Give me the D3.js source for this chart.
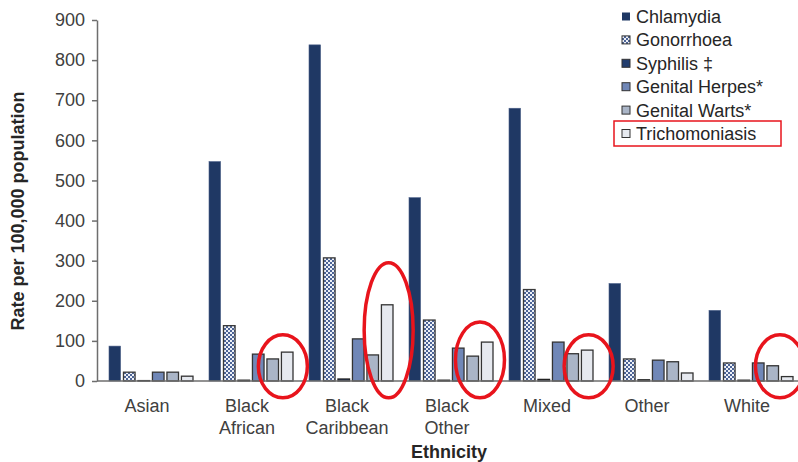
<!DOCTYPE html>
<html><head><meta charset="utf-8">
<script src="https://cdn.jsdelivr.net/npm/d3@7"></script>
<style>body{margin:0;background:#fff}svg{display:block}</style>
</head><body><svg id="c" width="798" height="462"></svg>
<script>
const categories = [["Asian"],["Black","African"],["Black","Caribbean"],["Black","Other"],["Mixed"],["Other"],["White"]];
const seriesNames = ["Chlamydia","Gonorrhoea","Syphilis \u2021","Genital Herpes*","Genital Warts*","Trichomoniasis"];
const chlamydia    = [87, 547, 838, 457, 680, 243, 176];
const gonorrhoea   = [22, 138, 307, 152, 228, 55, 45];
const syphilis     = [1, 2, 5, 2, 4, 3, 2];
const herpes       = [22, 67, 105, 82, 97, 52, 45];
const warts        = [22, 55, 65, 62, 68, 48, 38];
const trich        = [12, 72, 190, 97, 77, 20, 11];
const yTicks = [0,100,200,300,400,500,600,700,800,900];
// annotation ellipses: category index, centre in series-slot units, top and bottom in data units
const circleCat = [1, 2, 3, 4, 6];
const circlePos = [4.7, 5.1, 4.5, 5.1, 4.5];
const circleTop = [115, 295, 147, 115, 115];
const circleBottom = -42;

const values = [chlamydia, gonorrhoea, syphilis, herpes, warts, trich];
const FONT = "Liberation Sans, Arial, sans-serif";
const svg = d3.select("#c");
const defs = svg.append("defs");
const pat = defs.append("pattern").attr("id","chk").attr("patternUnits","userSpaceOnUse").attr("width",4).attr("height",4);
pat.append("rect").attr("width",4).attr("height",4).attr("fill","#eef1f7");
pat.append("rect").attr("x",0).attr("y",0).attr("width",2).attr("height",2).attr("fill","#4d6496");
pat.append("rect").attr("x",2).attr("y",2).attr("width",2).attr("height",2).attr("fill","#4d6496");

const fills = ["#1f3864","url(#chk)","#223d6e","#7087b7","#aab5c7","#e6e9ef"];
const strokes = ["#4a5f88","#3a3a3a","#222","#333","#333","#333"];

const x0 = 97, x1 = 797, yTop = 20, yBot = 381;
const x = d3.scaleBand().domain(d3.range(categories.length)).range([x0, x1]);
const xi = d3.scaleBand().domain(d3.range(seriesNames.length)).range([12, 96]).paddingInner(0.2).paddingOuter(0);
const slot = d3.scaleLinear().domain([0, 1]).range([xi(0) + xi.bandwidth()/2, xi(1) + xi.bandwidth()/2]);
const y = d3.scaleLinear().domain([0, 900]).range([yBot, yTop]);

// bars
values.forEach((arr, s) => {
  svg.append("g").selectAll("rect").data(arr).join("rect")
    .attr("x", (d,i) => x(i) + xi(s))
    .attr("width", xi.bandwidth())
    .attr("y", d => y(d))
    .attr("height", d => yBot - y(d))
    .attr("fill", fills[s])
    .attr("stroke", strokes[s])
    .attr("stroke-width", s===0?0.6:1.3);
});

// axes
const yAxis = d3.axisLeft(y).tickValues(yTicks).tickSize(5).tickPadding(7).tickSizeOuter(0);
const gy = svg.append("g").attr("transform",`translate(${x0},0)`).call(yAxis);
gy.select(".domain").attr("stroke","#6e6e6e").attr("stroke-width",1.5);
gy.selectAll(".tick line").attr("stroke","#6e6e6e").attr("stroke-width",1.5);
gy.selectAll(".tick text").attr("font-family",FONT).attr("font-size",18).attr("fill","#404040");

svg.append("line").attr("x1",x0).attr("x2",x1+1).attr("y1",yBot).attr("y2",yBot).attr("stroke","#6e6e6e").attr("stroke-width",1.5);

// x labels
const xl = svg.append("g");
categories.forEach((lines,i) => {
  const cx = x(i) + x.bandwidth()/2;
  const t = xl.append("text").attr("x", cx).attr("y", 412)
    .attr("text-anchor","middle").attr("font-family",FONT).attr("font-size",18).attr("fill","#404040");
  lines.forEach((ln,j) => t.append("tspan").attr("x", cx).attr("dy", j===0?0:22).text(ln));
});

svg.append("text").attr("x",449).attr("y",458).attr("text-anchor","middle")
  .attr("font-family",FONT).attr("font-size",18).attr("font-weight","bold").attr("fill","#262626").text("Ethnicity");
svg.append("text").attr("transform","translate(24,211) rotate(-90)").attr("text-anchor","middle")
  .attr("font-family",FONT).attr("font-size",18).attr("font-weight","bold").attr("fill","#262626").text("Rate per 100,000 population");

// legend
const lg = svg.append("g");
seriesNames.forEach((n,s) => {
  const cy = 16.5 + s*23.4;
  lg.append("rect").attr("x",622).attr("y",cy-4).attr("width",8).attr("height",8)
    .attr("fill",fills[s]).attr("stroke", s===0?"none":"#333").attr("stroke-width",1);
  lg.append("text").attr("x",636).attr("y",cy+6.5).attr("font-family",FONT)
    .attr("font-size",18).attr("fill","#262626").text(n);
});
lg.append("rect").attr("x",614).attr("y",121).attr("width",167).attr("height",25).attr("fill","none").attr("stroke","#e8141c").attr("stroke-width",1.5);

// red ellipses
circleCat.forEach((ci, k) => {
  const cx = x(ci) + slot(circlePos[k]);
  const top = y(circleTop[k]), bottom = y(circleBottom);
  svg.append("ellipse").attr("cx",cx).attr("cy",(top+bottom)/2)
    .attr("rx",24.5).attr("ry",(bottom-top)/2)
    .attr("fill","none").attr("stroke","#e8141c").attr("stroke-width",3.5);
});
</script></body></html>
